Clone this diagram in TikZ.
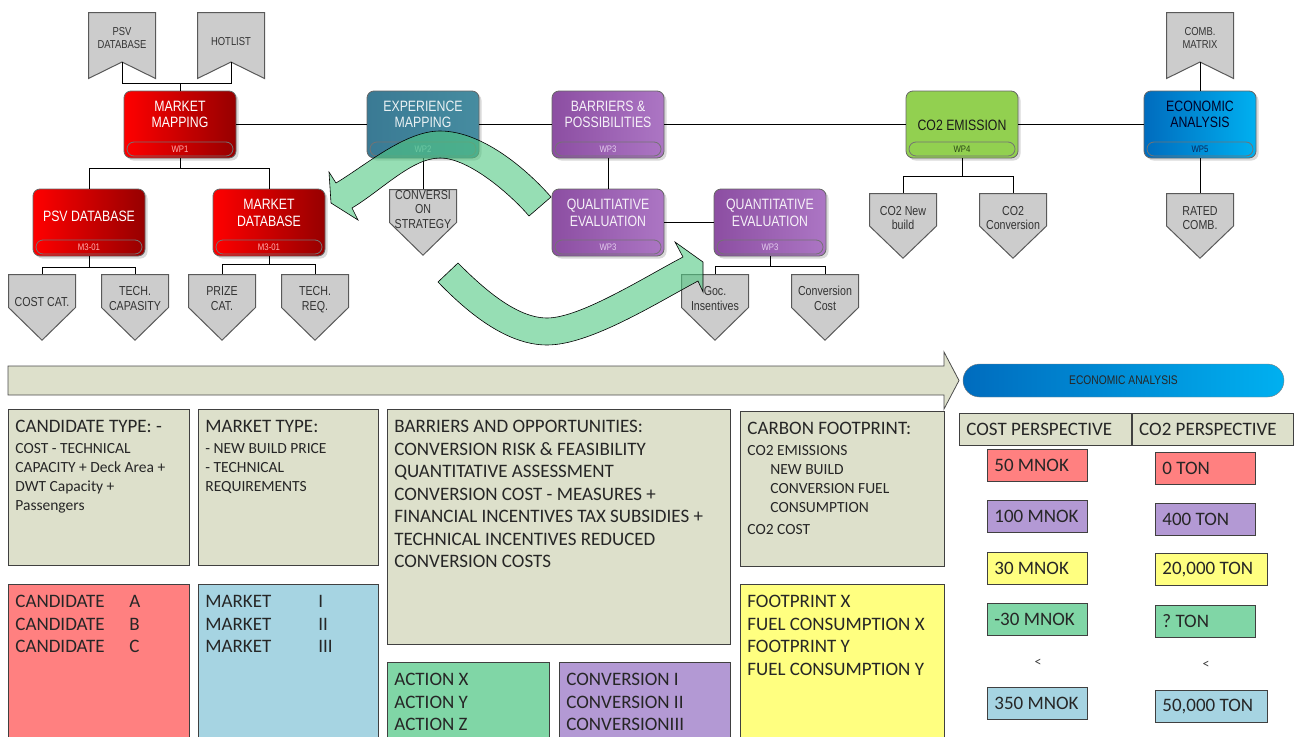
\documentclass[tikz,border=0pt]{standalone}
\usepackage{fontspec}
\setmainfont{Carlito}
\newfontfamily\narrowfont{Liberation Sans}[FakeStretch=0.82]
\usetikzlibrary{positioning,calc,shadows}

\definecolor{wpredA}{RGB}{255,0,0}
\definecolor{wpredB}{RGB}{150,0,0}
\definecolor{tealA}{RGB}{58,122,148}
\definecolor{tealB}{RGB}{70,140,160}
\definecolor{purpA}{RGB}{140,78,162}
\definecolor{purpB}{RGB}{172,118,196}
\definecolor{wpgreen}{RGB}{146,208,80}
\definecolor{eaA}{RGB}{0,108,190}
\definecolor{eaB}{RGB}{0,176,240}
\definecolor{bandred}{RGB}{255,175,175}
\definecolor{bandteal}{RGB}{150,200,210}
\definecolor{bandpurp}{RGB}{228,205,238}
\definecolor{bandgreen}{RGB}{40,70,20}
\definecolor{bandblue}{RGB}{10,40,90}
\definecolor{flaggray}{RGB}{204,204,204}
\definecolor{greige}{RGB}{221,224,203}
\definecolor{boxred}{RGB}{255,128,128}
\definecolor{boxblue}{RGB}{166,212,226}
\definecolor{boxgreen}{RGB}{128,214,166}
\definecolor{boxpurp}{RGB}{179,153,212}
\definecolor{boxyellow}{RGB}{255,255,128}
\definecolor{arrowgreen}{RGB}{80,200,130}

\newcommand{\lift}[2]{\raisebox{#1pt}[0pt][0pt]{\begin{tabular}{@{}c@{}}#2\end{tabular}}}
\newcommand{\wplabel}[4]{\makebox[0pt]{\lift{#2}{#1}}\makebox[0pt]{\raisebox{-27.5pt}[0pt][0pt]{\fontsize{9.5}{10}\selectfont\color{#3}#4}}}
\newcommand{\boxtext}[3]{\parbox[t][\dimexpr#2pt-22pt\relax][t]{\dimexpr#1pt-14pt\relax}{\raggedright #3}}
\newcommand{\lbox}[2]{\makebox[#1pt][l]{#2}}
\newcommand{\bx}{\fontsize{19}{22.5}\selectfont}
\newcommand{\sm}{\fontsize{15.5}{19}\selectfont}

\begin{document}
\frenchspacing
\begin{tikzpicture}[x=1pt, y=-1pt,
  conn/.style={draw=black, line width=0.9},
  wp/.style={rounded corners=7, minimum width=112, minimum height=67, inner sep=0, draw=black!60, line width=0.8,
    drop shadow={shadow xshift=2.5pt, shadow yshift=-2.5pt, opacity=0.3},
    font=\narrowfont\fontsize{15}{16.5}\selectfont,
    path picture={\draw[black!55, rounded corners=7, line width=0.8]
      ($(path picture bounding box.south west)+(3,-2)$) rectangle ($(path picture bounding box.south east)+(-3,-16)$);}},
  redwp/.style={wp, left color=wpredA, right color=wpredB, text=white},
  tealwp/.style={wp, left color=tealA, right color=tealB, text=white!90!tealA},
  purpwp/.style={wp, left color=purpA, right color=purpB, text=white!92!purpA},
  greenwp/.style={wp, fill=wpgreen, text=black!90},
  bluewp/.style={wp, left color=eaA, right color=eaB, text=black!85!blue},
  flag/.style={minimum width=68, minimum height=67, inner sep=0, text=black!80,
    font=\narrowfont\fontsize{11.5}{13}\selectfont,
    path picture={\filldraw[fill=flaggray, draw=black!65, line width=1]
      ($(path picture bounding box.north west)+(0.5,0.5)$) -- ($(path picture bounding box.north east)+(-0.5,0.5)$)
      -- ($(path picture bounding box.south east)+(-0.5,-0.5)$) -- ($(path picture bounding box.south)+(0,-17)$)
      -- ($(path picture bounding box.south west)+(0.5,-0.5)$) -- cycle;}},
  pent/.style={minimum width=68, minimum height=67, inner sep=0, text=black!80,
    font=\narrowfont\fontsize{13}{14.5}\selectfont,
    path picture={\filldraw[fill=flaggray, draw=black!65, line width=1]
      ($(path picture bounding box.north west)+(0.5,0.5)$) -- ($(path picture bounding box.north east)+(-0.5,0.5)$)
      -- ($(path picture bounding box.east)+(-0.5,0)$) -- ($(path picture bounding box.south)+(0,-0.8)$)
      -- ($(path picture bounding box.west)+(0.5,0)$) -- cycle;}},
  garrow/.style={fill=arrowgreen, fill opacity=0.6, draw=black, line width=0.6},
  bigarrow/.style={fill=greige, draw=black!70, line width=0.8},
  eabar/.style={minimum width=321, minimum height=33, rounded corners=16.5, left color=eaA, right color=eaB,
    draw=black!50, text=black!85, font=\narrowfont\fontsize{12.5}{14}\selectfont},
  tbox/.style={draw=black!75, line width=0.8, inner xsep=7, inner ysep=11, anchor=north west, text=black!85, font=\bx},
  cell/.style={draw=black!75, line width=0.8, fill=greige, minimum height=32, inner xsep=7, text=black!85, font=\bx},
  val/.style={draw=black!75, line width=0.8, minimum height=32, inner xsep=7, anchor=north west, text=black!85, font=\bx}]
\useasboundingbox (0,0) rectangle (1297,736);

% flags on top
\node[flag] (psvf) at (122,45.5) {\lift{3.6}{PSV\\DATABASE}};
\node[flag] (hotf) at (231,45.5) {\lift{0}{HOTLIST}};
\node[flag] (combf) at (1200,45.5) {\lift{3.6}{COMB.\\MATRIX}};

% work packages
\node[redwp] (mm) at (180,124.5) {\wplabel{MARKET\\MAPPING}{4.5}{bandred}{WP1}};
\node[tealwp] (xp) at (423,124.5) {\wplabel{EXPERIENCE\\MAPPING}{4.5}{bandteal}{WP2}};
\node[purpwp] (bp) at (608,124.5) {\wplabel{BARRIERS \&\\POSSIBILITIES}{4.5}{bandpurp}{WP3}};
\node[greenwp] (co2) at (962,124.5) {\wplabel{CO2 EMISSION}{-6}{bandgreen}{WP4}};
\node[bluewp] (ea) at (1200,124.5) {\wplabel{ECONOMIC\\ANALYSIS}{4.5}{bandblue}{WP5}};

\node[redwp] (psv) at (89,222.5) {\wplabel{PSV DATABASE}{0.5}{bandred}{M3-01}};
\node[redwp] (mdb) at (269,222.5) {\wplabel{MARKET\\DATABASE}{4}{bandred}{M3-01}};
\node[pent] (cs) at (423,222.5) {\lift{8.5}{CONVERSI\\ON\\STRATEGY}};
\node[purpwp] (qual) at (608,222.5) {\wplabel{QUALITIATIVE\\EVALUATION}{4}{bandpurp}{WP3}};
\node[purpwp] (quant) at (770,222.5) {\wplabel{QUANTITATIVE\\EVALUATION}{4}{bandpurp}{WP3}};

% outputs
\node[pent] (costc) at (42,307.5) {\lift{0.5}{COST CAT.}};
\node[pent] (techc) at (135,307.5) {\lift{4.5}{TECH.\\CAPASITY}};
\node[pent] (prize) at (222,307.5) {\lift{4.5}{PRIZE\\CAT.}};
\node[pent] (techr) at (315,307.5) {\lift{4.5}{TECH.\\REQ.}};
\node[pent] (goc) at (715,307.5) {\lift{4.5}{Goc.\\Insentives}};
\node[pent] (ccost) at (825,307.5) {\lift{4.5}{Conversion\\Cost}};
\node[pent, minimum height=66] (co2n) at (903,226) {\lift{3.5}{CO2 New\\build}};
\node[pent, minimum height=66] (co2c) at (1013,226) {\lift{3.5}{CO2\\Conversion}};
\node[pent, minimum height=66] (rated) at (1200,226) {\lift{3.5}{RATED\\COMB.}};

% connectors
\draw[conn] ($(psvf.south)+(0,-17)$) |- ($(mm.north)+(0,-7)$) -| ($(hotf.south)+(0,-17)$);
\draw[conn] (mm.north) -- ++(0,-7);
\draw[conn] ($(combf.south)+(0,-17)$) -- (ea.north);
\draw[conn] (mm) -- (xp); \draw[conn] (xp) -- (bp); \draw[conn] (bp) -- (co2); \draw[conn] (co2) -- (ea);
\draw[conn] (mm.south) -- ++(0,10) coordinate (mmb);
\draw[conn] (psv.north) |- (mmb) -| (mdb.north);
\draw[conn] (psv.south) -- ++(0,11) coordinate (psvb);
\draw[conn] (costc.north) |- (psvb) -| (techc.north);
\draw[conn] (mdb.south) -- ++(0,8) coordinate (mdbb);
\draw[conn] (prize.north) |- (mdbb) -| (techr.north);
\draw[conn] (xp) -- (cs);
\draw[conn] (bp) -- (qual);
\draw[conn] (qual) -- (quant);
\draw[conn] (quant.south) -- ++(0,10) coordinate (qb);
\draw[conn] (goc.north) |- (qb) -| (ccost.north);
\draw[conn] (co2.south) -- ++(0,18) coordinate (cb);
\draw[conn] (co2n.north) |- (cb) -| (co2c.north);
\draw[conn] (ea) -- (rated);

% curved green arrows
\filldraw[garrow] (551,197) .. controls (531,174) and (485,131) .. (440,131) .. controls (405,131) and (366,165) .. (336,183)
  -- (329,172) -- (331,203) -- (358,220) -- (352,208) .. controls (382,190) and (412,158) .. (440,158)
  .. controls (470,158) and (513,197) .. (529,216) -- cycle;
\filldraw[garrow] (458,263) .. controls (480,285) and (515,318) .. (547,318) .. controls (580,318) and (643,278) .. (683,257)
  -- (675,242) -- (703,262) -- (703,292) -- (698,281) .. controls (655,304) and (590,345) .. (547,345)
  .. controls (505,345) and (465,310) .. (438,282) -- cycle;

% timeline
\filldraw[bigarrow] (8,366) -- (944,366) -- (944,352) -- (959,380.5) -- (944,409) -- (944,395) -- (8,395) -- cycle;
\node[eabar] (eab) at (1123.5,380.5) {ECONOMIC ANALYSIS};

% text boxes
\node[tbox, fill=greige] (ctype) at (8,409) {\boxtext{181}{156}{CANDIDATE TYPE: -\par\vspace{2pt}
  {\sm COST - TECHNICAL\\CAPACITY + Deck Area +\\DWT Capacity +\\Passengers\par}}};
\node[tbox, fill=greige] (mtype) at (198,409) {\boxtext{180}{156}{MARKET TYPE:\par\vspace{2pt}
  {\sm - NEW BUILD PRICE\\- TECHNICAL\\REQUIREMENTS\par}}};
\node[tbox, fill=greige] (barr) at (387,409) {\boxtext{343}{235}{BARRIERS AND OPPORTUNITIES:\\CONVERSION RISK \& FEASIBILITY\\
  QUANTITATIVE ASSESSMENT\\CONVERSION COST - MEASURES +\\FINANCIAL INCENTIVES TAX SUBSIDIES +\\
  TECHNICAL INCENTIVES REDUCED\\CONVERSION COSTS}};
\node[tbox, fill=greige] (carb) at (740,411) {\boxtext{204}{155}{CARBON FOOTPRINT:\par\vspace{2pt}
  {\sm CO2 EMISSIONS\\\hspace*{23pt}NEW BUILD\\\hspace*{23pt}CONVERSION FUEL\\\hspace*{23pt}CONSUMPTION\\[3pt]CO2 COST\par}}};
\node[tbox, fill=boxred] (cand) at (8,584) {\boxtext{181}{165}{\makebox[114pt][l]{CANDIDATE}A\\
  \makebox[114pt][l]{CANDIDATE}B\\\makebox[114pt][l]{CANDIDATE}C}};
\node[tbox, fill=boxblue] (mark) at (198,584) {\boxtext{180}{165}{\makebox[113pt][l]{MARKET}I\\
  \makebox[113pt][l]{MARKET}II\\\makebox[113pt][l]{MARKET}III}};
\node[tbox, fill=boxgreen] (act) at (387,662) {\boxtext{162}{90}{ACTION X\\ACTION Y\\ACTION Z}};
\node[tbox, fill=boxpurp] (convs) at (559,662) {\boxtext{171}{90}{CONVERSION I\\CONVERSION II\\CONVERSIONIII}};
\node[tbox, fill=boxyellow] (foot) at (740,584) {\boxtext{204}{165}{FOOTPRINT X\\FUEL CONSUMPTION X\\
  FOOTPRINT Y\\FUEL CONSUMPTION Y}};

% perspectives
\node[cell, anchor=north west] (costp) at (959,413) {\lbox{158}{COST PERSPECTIVE}};
\node[cell, right=0pt of costp] (co2p) {\lbox{147}{CO2 PERSPECTIVE}};
\foreach \n/\y/\c/\t in {c1/449/boxred/50 MNOK, c2/500/boxpurp/100 MNOK, c3/552/boxyellow/30 MNOK,
  c4/603/boxgreen/-30 MNOK, c5/687/boxblue/350 MNOK}
  \node[val, fill=\c] (\n) at (987,\y) {\lbox{86}{\t}};
\foreach \n/\y/\c/\w/\t in {t1/452/boxred/86/0 TON, t2/503/boxpurp/86/400 TON, t3/553/boxyellow/98/{20,000 TON},
  t4/605/boxgreen/86/? TON, t5/690/boxblue/98/{50,000 TON}}
  \node[val, fill=\c] (\n) at (1155,\y) {\lbox{\w}{\t}};
\node[text=black!75, font=\fontsize{14}{14}\selectfont] (lt1) at (1038,663) {<};
\node[text=black!75, font=\fontsize{14}{14}\selectfont] (lt2) at (1206,665) {<};
\end{tikzpicture}
\end{document}
